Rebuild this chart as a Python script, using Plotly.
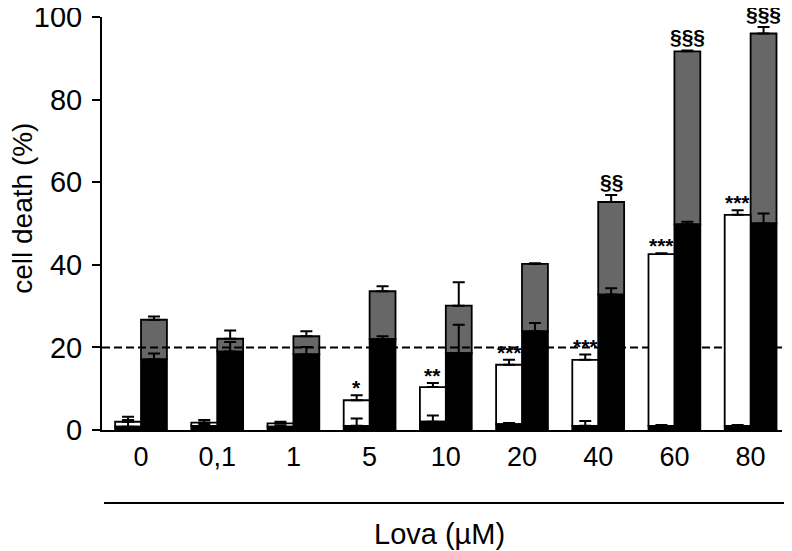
import plotly.graph_objects as go

conc = ["0", "0,1", "1", "5", "10", "20", "40", "60", "80"]
left_black = [0.8, 1.0, 0.8, 1.0, 2.0, 1.4, 1.0, 1.0, 1.0]
left_black_err = [1.6, 0.5, 0.3, 1.8, 1.5, 0.3, 1.2, 0.2, 0.2]
left_total = [2.0, 1.8, 1.6, 7.2, 10.4, 15.8, 17.0, 42.6, 52.1]
left_total_err = [1.2, 0.6, 0.4, 1.2, 1.0, 1.2, 1.3, 0.2, 1.1]
right_black = [17.1, 19.0, 18.3, 22.0, 18.6, 23.9, 32.8, 49.8, 50.0]
right_black_err = [1.4, 2.3, 1.8, 0.7, 6.9, 2.0, 1.5, 0.6, 2.4]
right_total = [26.7, 22.1, 22.7, 33.6, 30.1, 40.2, 55.2, 91.7, 96.0]
right_total_err = [0.8, 2.0, 1.2, 1.2, 5.7, 0.2, 1.7, 0.2, 1.6]
stars = ["", "", "", "*", "**", "***", "***", "***", "***"]
sections = ["", "", "", "", "", "", "§§", "§§§", "§§§"]
threshold = 20

n = len(conc)
idx = list(range(n))
xl = [i - 0.17 for i in idx]
xr = [i + 0.17 for i in idx]
BW = 0.34
XR = [-0.512, 8.412]
FONT = "Liberation Sans, Arial, sans-serif"
zeros = [0] * n


def err(arr):
    return dict(type="data", array=arr, arrayminus=zeros, symmetric=False,
                color="black", thickness=2, width=6)


line = dict(color="black", width=1.8)
fig = go.Figure()
# right bars (main subplot)
fig.add_trace(go.Bar(x=xr, y=[t - b for t, b in zip(right_total, right_black)], base=right_black,
                     width=BW, marker=dict(color="#676767", line=line), error_y=err(right_total_err),
                     xaxis="x", yaxis="y"))
fig.add_trace(go.Bar(x=xr, y=right_black, width=BW, marker=dict(color="black", line=line),
                     error_y=err(right_black_err), xaxis="x", yaxis="y"))
fig.add_trace(go.Scatter(x=XR, y=[threshold, threshold], mode="lines",
                         line=dict(color="black", width=2, dash="8px,4px"), xaxis="x", yaxis="y"))
# left bars (overlay subplot, drawn above)
fig.add_trace(go.Bar(x=xl, y=[t - b for t, b in zip(left_total, left_black)], base=left_black,
                     width=BW, marker=dict(color="white", line=line), error_y=err(left_total_err),
                     xaxis="x2", yaxis="y2"))
fig.add_trace(go.Bar(x=xl, y=left_black, width=BW, marker=dict(color="black", line=line),
                     error_y=err(left_black_err), xaxis="x2", yaxis="y2"))

ann = []
for i in idx:
    if stars[i]:
        ann.append(dict(x=xl[i], y=left_total[i] + left_total_err[i], xref="x", yref="y",
                        text="<b>" + stars[i] + "</b>", showarrow=False, yanchor="bottom",
                        yshift=-6, font=dict(size=21, color="black", family=FONT)))
    if sections[i]:
        ann.append(dict(x=xr[i], y=right_total[i] + right_total_err[i], xref="x", yref="y",
                        text="<b>" + sections[i] + "</b>", showarrow=False, yanchor="bottom",
                        yshift=0, font=dict(size=21, color="black", family=FONT)))
ann.append(dict(x=0.497, y=-0.2518, xref="paper", yref="paper", text="Lova (µM)", showarrow=False,
                yanchor="middle", font=dict(size=29, color="black", family=FONT)))
ann.append(dict(x=-0.116, y=0.536, xref="paper", yref="paper", text="cell death (%)",
                showarrow=False, textangle=-90, xanchor="center", yanchor="middle",
                font=dict(size=28, color="black", family=FONT)))

fig.update_layout(
    width=784, height=543, margin=dict(l=94, r=10, t=9, b=121),
    paper_bgcolor="white", plot_bgcolor="white", showlegend=False,
    barmode="overlay", font=dict(family=FONT, color="black"),
    xaxis=dict(range=XR, tickvals=idx, ticktext=conc, showgrid=False, zeroline=False,
               showline=True, linecolor="black", linewidth=2, ticks="", automargin=False,
               tickfont=dict(size=27), ticklabelstandoff=2),
    yaxis=dict(range=[0, 100], tickvals=[0, 20, 40, 60, 80, 100], showgrid=False, zeroline=False,
               showline=True, linecolor="black", linewidth=2, ticks="outside", ticklen=8,
               tickwidth=2, tickcolor="black", tickfont=dict(size=29), automargin=False,
               ticklabeloverflow="allow", ticklabelstandoff=4),
    xaxis2=dict(range=XR, overlaying="x", visible=False),
    yaxis2=dict(range=[0, 100], overlaying="y", visible=False),
    annotations=ann,
    shapes=[dict(type="line", xref="paper", yref="paper", x0=0.003, x1=1.013, y0=-0.1768, y1=-0.1768,
                 line=dict(color="black", width=2))],
)
fig.write_html("out.html")
